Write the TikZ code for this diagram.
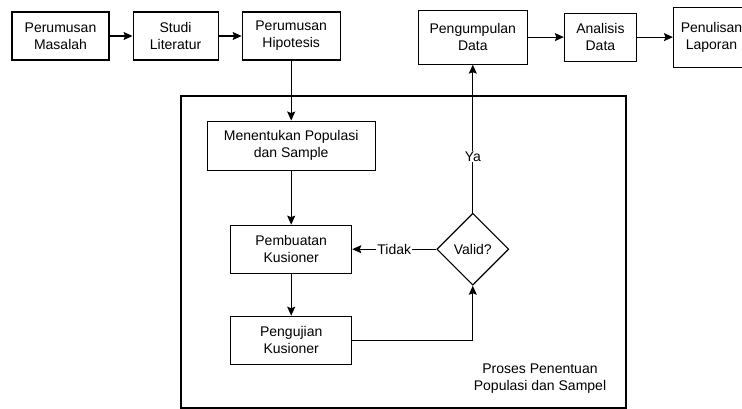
\documentclass[tikz,border=0pt]{standalone}
\usepackage{fontspec}
\setmainfont{Liberation Sans}
\usetikzlibrary{arrows.meta}
\usetikzlibrary{positioning}
\usetikzlibrary{shapes.geometric}

\tikzset{
  box/.style={draw,rectangle,align=center,inner sep=0pt},
  decision/.style={draw,diamond,aspect=1,inner sep=0pt,minimum size=72pt},
}

\begin{document}
\begin{tikzpicture}[x=1pt,y=-1pt,line width=1.1pt,>={Stealth[length=9pt,width=8pt,inset=1.5pt]},
    font=\fontsize{14}{17}\selectfont]
      \useasboundingbox (0,0) rectangle (742,409);
      % alur utama
      \node (masalah) [box,minimum width=97pt,minimum height=48pt] at (60.5,36) {Perumusan\\Masalah};
      \node (literatur) [box,minimum width=85pt,minimum height=48pt,right=23pt of masalah] {Studi\\Literatur};
      \node (hipotesis) [box,minimum width=98pt,minimum height=48pt,right=23pt of literatur] {Perumusan\\Hipotesis};
      \node (populasi) [box,minimum width=168pt,minimum height=49pt,below=60pt of hipotesis] {Menentukan Populasi\\dan Sample};
      \node (pembuatan) [box,minimum width=121pt,minimum height=48pt,below=54pt of populasi] {Pembuatan\\Kusioner};
      \node (pengujian) [box,minimum width=121pt,minimum height=48pt,below=42pt of pembuatan] {Pengujian\\Kusioner};
      \node (valid) [decision,right=84pt of pembuatan] {Valid?};
      \node (kumpul) [box,minimum width=109pt,minimum height=54pt,above=148pt of valid] {Pengumpulan\\Data};
      \node (analisis) [box,minimum width=72pt,minimum height=48pt,right=36pt of kumpul] {Analisis\\Data};
      \node (laporan) [box,minimum width=76pt,minimum height=60pt,right=36pt of analisis] {Penulisan\\Laporan};
      % bingkai proses
      \draw (181,96) rectangle (626,408);
      \node (proses) [align=center] at (540,379) {Proses Penentuan\\Populasi dan Sampel};
      \draw[->] (masalah) -- (literatur);
      \draw[->] (literatur) -- (hipotesis);
      \draw[->] (hipotesis) -- (populasi);
      \draw[->] (populasi) -- (pembuatan);
      \draw[->] (pembuatan) -- (pengujian);
      \draw[->] (pengujian.east) -| (valid.south);
      \draw[->] (valid.west) -- node[fill=white,inner sep=1pt] {Tidak} (pembuatan.east);
      \draw[->] (valid.north) -- node[pos=0.38,fill=white,inner sep=1pt] {Ya} (kumpul.south);
      \draw[->] (kumpul) -- (analisis);
      \draw[->] (analisis) -- (laporan);
    \end{tikzpicture}
\end{document}
